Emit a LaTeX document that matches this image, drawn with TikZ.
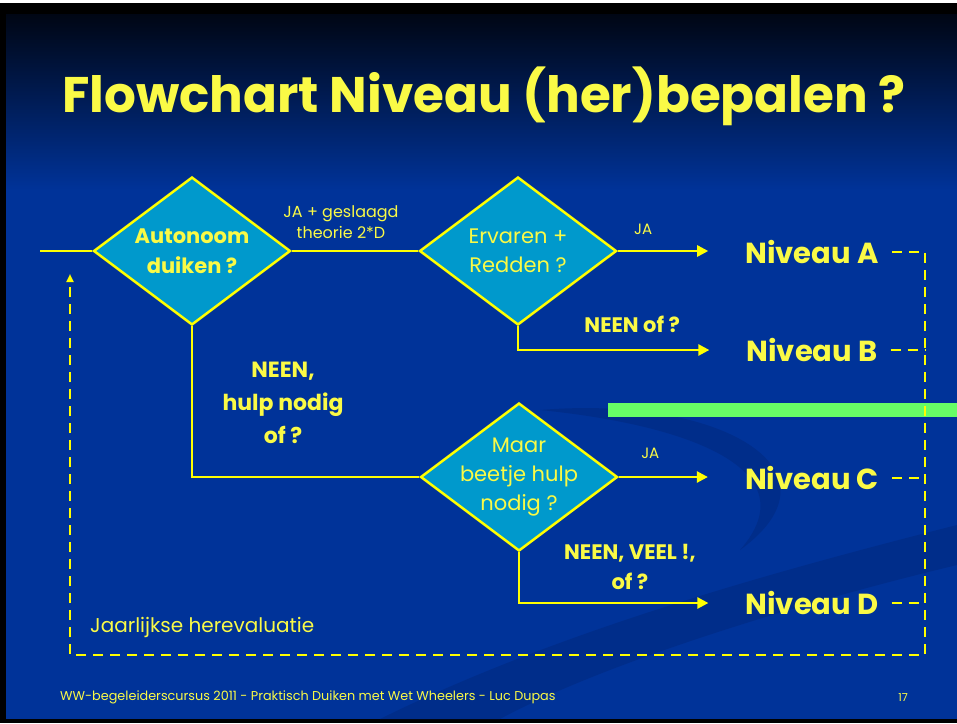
\documentclass[tikz,border=0pt]{standalone}
\usepackage{fontspec}
\setmainfont{Poppins}
\usetikzlibrary{shapes.geometric,arrows.meta}
\definecolor{slideblue}{RGB}{0,51,153}
\definecolor{slidetop}{RGB}{0,6,20}
\definecolor{swoosh}{RGB}{0,45,138}
\definecolor{txtyellow}{RGB}{250,250,70}
\definecolor{lineyellow}{RGB}{255,255,0}
\definecolor{boxcyan}{RGB}{0,153,204}
\definecolor{bargreen}{RGB}{102,255,102}

\begin{document}
\begin{tikzpicture}[x=1pt, y=-1pt,
  question/.style={diamond, draw=lineyellow, line width=2.5pt, fill=boxcyan,
    minimum width=197pt, minimum height=148pt, inner sep=-30pt, align=center,
    text=txtyellow, font=\fontsize{21}{29}\selectfont},
  level/.style={text=txtyellow, inner sep=0pt, font=\fontsize{29}{34}\selectfont\bfseries},
  lbl/.style={text=txtyellow, inner sep=0pt, align=center},
  flow/.style={draw=lineyellow, line width=2.5pt},
  arrow/.style={flow, -{Triangle[length=11pt,width=11pt]}, shorten >=37pt},
  loop/.style={draw=lineyellow, line width=2.5pt, dash pattern=on 10pt off 7pt}]

\useasboundingbox (0,0) rectangle (957,723);

% Slide background
\fill[black] (0,0) rectangle (957,723);
\fill[white] (0,0) rectangle (957,3);
\shade[top color=slidetop, bottom color=slideblue] (6,14) rectangle (957,190);
\fill[slideblue] (6,190) rectangle (957,719);
\fill[swoosh] (380,719) .. controls (560,630) and (780,570) .. (957,525)
  -- (957,565) .. controls (790,605) and (600,665) .. (500,719) -- cycle;
\fill[swoosh] (540,410) .. controls (720,395) and (850,470) .. (740,550)
  .. controls (810,470) and (690,425) .. (540,410) -- cycle;

% Title
\node (title) at (484,96) [lbl, font=\fontsize{50}{60}\selectfont\bfseries]
  {Flowchart Niveau (her)bepalen ?};

% Nodes
\coordinate (start) at (40,251);
\node (autonoom) at (192,251) [question, font=\fontsize{21}{30}\selectfont\bfseries] {Autonoom\\duiken ?};
\node (ervaren) at (518,251) [question] {Ervaren +\\Redden ?};
\node (maar) at (519,477) [question] {Maar\\beetje hulp\\nodig ?};

\node (nivA) at (812,252) [level] {Niveau A};
\node (nivB) at (812,350) [level] {Niveau B};
\node (nivC) at (812,478) [level] {Niveau C};
\node (nivD) at (812,603) [level] {Niveau D};

\node (herev) at (90,627) [lbl, anchor=west, font=\fontsize{20}{24}\selectfont] {Jaarlijkse herevaluatie};

\coordinate (loopBR) at (925,655);
\coordinate (loopBL) at (70,655);
\coordinate (loopEnd) at (70,274);

% Green bar
\fill[bargreen] (608,403) rectangle (957,417);

% Arrows with labels
\draw[flow] (start) -- (autonoom.west);
\draw[flow] (autonoom.east) -- (ervaren.west)
  node[lbl, midway, above=11pt, xshift=-14pt, font=\fontsize{16}{21}\selectfont] {JA + geslaagd\\theorie 2*D};
\draw[arrow] (ervaren.east) -- (ervaren.east -| nivA.west)
  node[lbl, pos=0.2, above=15pt, font=\fontsize{15}{18}\selectfont] {JA};
\draw[arrow] (ervaren.south) |- (nivB.west)
  node[lbl, pos=0.75, above=16pt, font=\fontsize{21}{25}\selectfont\bfseries] {NEEN of ?};
\draw[flow] (autonoom.south) |- (maar.west)
  node[lbl, pos=0.5, xshift=91pt, yshift=74pt, font=\fontsize{22}{33}\selectfont\bfseries] {NEEN,\\hulp nodig\\of ?};
\draw[arrow] (maar.east) -- (maar.east -| nivC.west)
  node[lbl, pos=0.25, above=17pt, font=\fontsize{15}{18}\selectfont] {JA};
\draw[arrow] (maar.south) |- (nivD.west)
  node[lbl, pos=0.745, above=12pt, font=\fontsize{21}{30}\selectfont\bfseries] {NEEN, VEEL !,\\of ?};

% Dashed loop back
\draw[loop, shorten <=13pt, -{Triangle[length=8pt,width=7pt]}] (nivA.east) -| (loopBR) -- (loopBL) -- (loopEnd);
\draw[loop, shorten <=13pt] (nivB.east) -- (nivB.east -| loopBR);
\draw[loop, shorten <=13pt] (nivC.east) -- (nivC.east -| loopBR);
\draw[loop, shorten <=13pt] (nivD.east) -- (nivD.east -| loopBR);

% Footer
\node (footer) at (60,697) [lbl, anchor=west, font=\fontsize{12.8}{15}\selectfont]
  {WW-begeleiderscursus 2011 - Praktisch Duiken met Wet Wheelers - Luc Dupas};
\node (page) at (903,698) [lbl, font=\fontsize{11}{13}\selectfont] {17};

\end{tikzpicture}
\end{document}
